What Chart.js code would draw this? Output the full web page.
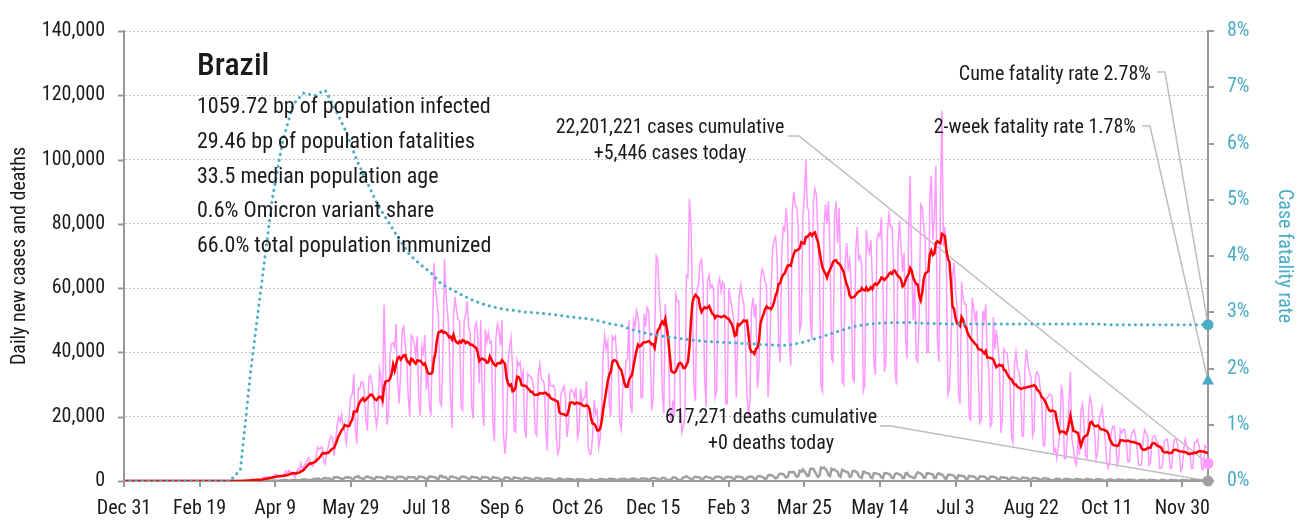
<!DOCTYPE html>
<html>
<head>
<meta charset="utf-8">
<script src="https://cdn.jsdelivr.net/npm/chart.js@4.4.1/dist/chart.umd.min.js"></script>
<style>
    html, body { margin: 0; padding: 0; background: #fff; }
</style>
</head>
<body>
<canvas id="cfrChart" width="1312" height="520"></canvas>
<script>
var FONT = "'Roboto Condensed', 'DejaVu Sans Condensed', sans-serif";
var TEAL = '#4bacc6';

// x axis: day number counted from Dec 31 2019, labelled every 50 days
var tickLabels = ['Dec 31', 'Feb 19', 'Apr 9', 'May 29', 'Jul 18', 'Sep 6', 'Oct 26', 'Dec 15',
    'Feb 3', 'Mar 25', 'May 14', 'Jul 3', 'Aug 22', 'Oct 11', 'Nov 30'];
var tickStep = 50;
var lastDay = 717;

// daily new cases, thousands, one row per week (Sun..Sat)
var dailyCasesK = [
    0, 0, 0, 0, 0,
    0, 0, 0, 0, 0, 0, 0, 0, 0, 0, 0, 0, 0, 0, 0, 0, 0, 0, 0, 0, 0, 0, 0, 0, 0, 0, 0, 0, 0,
    0, 0, 0, 0, 0, 0, 0, 0, 0, 0, 0, 0, 0, 0, 0, 0, 0, 0, 0, 0, 0, 0, 0, 0, 0, 0, 0, 0,
    0, 0, 0, 0, 0, 0, 0.01,
    0.01, 0, 0.01, 0.02, 0.03, 0.02, 0.03,
    0.08, 0.03, 0.06, 0.14, 0.19, 0.28, 0.22,
    0.42, 0.35, 0.31, 0.23, 0.48, 0.5, 0.49,
    0.35, 0.32, 1.14, 1.12, 1.07, 1.15, 1.22,
    0.85, 0.93, 1.66, 2.21, 1.93, 1.78, 1.09,
    1.44, 1.26, 1.83, 3.06, 2.1, 3.26, 2.92,
    1.93, 2.34, 1.09, 2.68, 3.74, 3.5, 5.51,
    3.38, 4.61, 5.39, 6.28, 7.22, 6.21, 4.97,
    4.59, 6.63, 6.94, 10.5, 9.89, 10.22, 10.61,
    6.2, 5.2, 8.5, 10.4, 12.8, 14, 13.6,
    7.9, 13.1, 17.4, 19.9, 18.5, 20.8, 16.5,
    15.8, 11.7, 16.3, 20.6, 26.4, 26.9, 33.3,
    16.4, 11.6, 28.9, 28.6, 30.9, 30.8, 27.1,
    18.9, 15.7, 32.1, 32.9, 30.4, 26, 21.7,
    17.1, 20.6, 34.9, 32.2, 22.8, 54.8, 34.7,
    17.5, 21.4, 39.4, 42.7, 43, 41.5, 48.9,
    30.5, 24.1, 33.8, 46.7, 48.1, 42.2, 37.9,
    26.1, 20.2, 45.3, 44.6, 42.6, 39, 45,
    24.8, 20.3, 41.9, 39.9, 45.4, 28.5, 34.2,
    23.5, 20.3, 44.9, 67.9, 59.9, 55.9, 51.1,
    24.6, 23.3, 40.8, 69.1, 57.8, 52.4, 45.4,
    25.8, 16.6, 51.6, 57.2, 53.1, 50.2, 49.9,
    23, 22, 50, 52, 56, 48, 46,
    23.1, 19.4, 47.8, 49.3, 45.3, 30.4, 50,
    24.4, 17.1, 47.1, 43.2, 46.2, 42.9, 43.4,
    18.2, 12.3, 44.4, 48.9, 46.8, 42.2, 50.2,
    14.3, 8.4, 14.3, 36.8, 41.6, 44.7, 35.5,
    15.8, 15.2, 37.7, 35.9, 36.9, 31.8, 34.1,
    16.4, 13.4, 33.5, 32.8, 32.4, 31.9, 28.4,
    15.2, 14.2, 33.1, 36.4, 31.7, 31.3, 30.3,
    15.2, 9.5, 33.6, 29.7, 29.4, 29.8, 28.7,
    13.3, 8.4, 10.2, 27, 28.2, 29.5, 26.1,
    13.7, 17.8, 27.8, 28.5, 27.5, 26.1, 29,
    13.5, 16, 28.6, 24.5, 25.7, 26.1, 31,
    10.8, 8.4, 8.5, 14.4, 25.2, 20.9, 22.1,
    10.6, 13.4, 23.9, 40.3, 45.3, 41, 43.4,
    24, 20, 45, 44, 45, 38, 35,
    18, 16, 31, 30, 37, 38, 50,
    24, 21, 50, 48, 53, 51, 46,
    26, 26, 52, 48, 54, 53, 43,
    22, 26, 44, 70, 69, 58, 52,
    28, 21, 55, 48, 47, 23, 18,
    25, 20, 58, 56, 56, 24, 15,
    // 2021
    17, 20, 64, 63.5, 87.8, 80, 56,
    29, 25, 60, 61, 68, 69, 62,
    33, 23, 62, 64, 60, 61, 59,
    26, 28, 61, 63, 59, 62, 61,
    24, 24, 60, 57, 54, 51, 46,
    26, 47, 58, 61, 57, 55, 44,
    27, 21, 24, 53, 57, 51, 55,
    29, 35, 62, 66, 65, 62, 61,
    26, 35, 59, 72, 75, 76, 69,
    43, 37, 70, 79, 78, 85, 77,
    44, 36, 84, 90, 86, 85, 79,
    47, 49, 82, 89, 100.2, 85, 84,
    50, 44, 87, 91, 89, 76, 64,
    30, 28, 79, 86, 80, 87, 70,
    38, 37, 82, 87, 74, 85, 66,
    31, 30, 68, 74, 66, 69, 61,
    32, 31, 72, 79, 69, 70, 67,
    28, 30, 78, 73, 71, 75, 63,
    37, 33, 75, 77, 76, 82, 61,
    34, 37, 78, 83, 79, 79, 68,
    34, 30, 73, 81, 73, 65, 71,
    44, 38, 78, 95, 67, 50, 63,
    38, 37, 52, 86, 85, 79, 75,
    40, 40, 88, 95, 75, 82, 98,
    44, 37, 87, 115.2, 73, 79, 66,
    27, 29, 43, 63, 68, 59, 54,
    27, 24, 62, 57, 55, 55, 43,
    20, 19, 57, 54, 50, 53, 35,
    18, 19, 53, 50, 55, 39, 35,
    17, 18, 51, 41, 47, 42, 37,
    15, 19, 41, 40, 40, 36, 32,
    14, 12, 36, 40, 35, 34, 30,
    14, 14, 36, 41, 36, 34, 32,
    14, 16, 33, 34, 33, 29, 24,
    11, 11, 26, 26, 27, 27, 26,
    9, 10, 7, 11, 15, 30, 26,
    7, 7, 14, 24, 34, 13, 10,
    6, 5, 13, 8, 22, 24, 18,
    8, 7, 22, 26, 24, 18, 15,
    7, 9, 19, 21, 23, 18, 13,
    6, 4, 6, 15, 17, 17, 12,
    5, 7, 16, 15, 16, 16, 12,
    6, 6, 14, 15, 16, 14, 11,
    5, 5, 5, 12, 16, 15, 14,
    5, 6, 13, 14, 14, 12, 12,
    4, 4, 5, 12, 13, 13, 10,
    4, 4, 11, 13, 13, 11, 9,
    3, 4, 10, 13, 11, 9, 9,
    4, 4, 12, 12, 13, 11, 9,
    3.5, 3.8, 11, 10.5, 11, 5.446
];

// daily new deaths, thousands, same layout
var dailyDeathsK = [
    0, 0, 0, 0, 0,
    0, 0, 0, 0, 0, 0, 0, 0, 0, 0, 0, 0, 0, 0, 0, 0, 0, 0, 0, 0, 0, 0, 0, 0, 0, 0, 0, 0, 0, 0, 0,
    0, 0, 0, 0, 0, 0, 0, 0, 0, 0, 0, 0, 0, 0, 0, 0, 0, 0, 0, 0, 0, 0, 0, 0, 0, 0, 0, 0, 0, 0, 0,
    0, 0, 0, 0, 0, 0, 0,
    0, 0, 0, 0, 0, 0.01, 0.01,
    0.01, 0.01, 0.01, 0.02, 0.02, 0.02, 0.02,
    0.02, 0.02, 0.04, 0.06, 0.07, 0.06, 0.07,
    0.05, 0.05, 0.13, 0.13, 0.14, 0.14, 0.07,
    0.1, 0.1, 0.2, 0.2, 0.4, 0.2, 0.2,
    0.12, 0.11, 0.3, 0.35, 0.35, 0.33, 0.2,
    0.2, 0.3, 0.45, 0.45, 0.43, 0.42, 0.3,
    0.3, 0.3, 0.6, 0.7, 0.6, 0.75, 0.7,
    0.5, 0.4, 0.85, 0.9, 0.8, 0.8, 0.8,
    0.5, 0.5, 1.2, 1.1, 1.2, 1.0, 0.9,
    0.65, 0.55, 1.1, 1.1, 1.15, 1.1, 0.95,
    0.5, 0.6, 1.26, 1.35, 1.47, 0.9, 0.9,
    0.55, 0.7, 1.3, 1.3, 1.24, 0.9, 0.9,
    0.6, 0.6, 1.3, 1.2, 1.2, 1.2, 1.0,
    0.65, 0.7, 1.4, 1.3, 1.2, 1.2, 1.1,
    0.55, 0.7, 1.3, 1.3, 1.25, 1.3, 1.1,
    0.6, 0.6, 1.3, 1.2, 1.2, 1.2, 1.2,
    0.6, 0.7, 1.3, 1.3, 1.3, 1.2, 0.9,
    0.7, 0.7, 1.4, 1.3, 1.3, 1.2, 1.2,
    0.55, 0.6, 1.6, 1.6, 1.1, 1.2, 1.1,
    0.55, 0.6, 1.4, 1.4, 1.2, 1.1, 1.0,
    0.6, 0.7, 1.3, 1.3, 1.3, 1.1, 0.9,
    0.55, 0.7, 1.35, 1.2, 1.2, 1.1, 0.95,
    0.5, 0.5, 1.3, 1.2, 1.2, 1.2, 0.9,
    0.45, 0.55, 1.2, 1.1, 1.0, 0.9, 0.8,
    0.45, 0.3, 0.5, 1.1, 1.1, 1.0, 0.8,
    0.4, 0.5, 1.1, 1.0, 0.9, 0.85, 0.8,
    0.4, 0.4, 1.1, 0.9, 0.9, 0.8, 0.7,
    0.35, 0.35, 0.9, 0.95, 0.8, 0.75, 0.7,
    0.3, 0.35, 0.8, 0.8, 0.75, 0.7, 0.65,
    0.3, 0.2, 0.3, 0.7, 0.75, 0.7, 0.55,
    0.25, 0.4, 0.7, 0.6, 0.6, 0.55, 0.5,
    0.25, 0.35, 0.6, 0.55, 0.5, 0.5, 0.45,
    0.2, 0.2, 0.2, 0.4, 0.6, 0.4, 0.35,
    0.2, 0.3, 0.5, 0.6, 0.6, 0.5, 0.55,
    0.3, 0.25, 0.7, 0.7, 0.6, 0.6, 0.45,
    0.3, 0.3, 0.6, 0.6, 0.65, 0.7, 0.6,
    0.3, 0.3, 0.7, 0.7, 0.75, 0.7, 0.6,
    0.3, 0.4, 0.8, 0.8, 0.75, 0.7, 0.65,
    0.3, 0.45, 0.9, 0.95, 0.9, 0.8, 0.75,
    0.3, 0.5, 0.95, 0.95, 0.8, 0.4, 0.3,
    0.35, 0.5, 1.1, 1.1, 1.05, 0.5, 0.4,
    // 2021
    0.3, 0.6, 1.2, 1.25, 1.5, 1.1, 1.0,
    0.5, 0.5, 1.1, 1.3, 1.2, 1.2, 1.05,
    0.5, 0.5, 1.2, 1.4, 1.2, 1.1, 1.0,
    0.6, 0.6, 1.2, 1.3, 1.3, 1.25, 1.1,
    0.55, 0.6, 1.2, 1.3, 1.25, 1.2, 1.1,
    0.55, 0.6, 1.35, 1.3, 1.3, 1.2, 1.1,
    0.5, 0.55, 0.7, 1.3, 1.4, 1.35, 1.2,
    0.55, 0.6, 1.4, 1.5, 1.5, 1.3, 1.05,
    0.65, 0.8, 1.7, 1.9, 1.8, 1.7, 1.3,
    0.8, 1.0, 1.95, 2.3, 2.2, 2.2, 1.6,
    1.1, 1.3, 2.8, 2.7, 2.7, 2.8, 2.0,
    1.3, 1.5, 3.2, 2.9, 3.6, 3.0, 2.4,
    1.5, 1.6, 3.8, 3.9, 3.7, 2.9, 2.0,
    1.3, 1.7, 4.2, 4.0, 4.2, 3.7, 3.0,
    1.8, 1.5, 3.8, 3.4, 3.6, 3.1, 2.9,
    1.6, 1.3, 3.5, 3.2, 3.0, 2.9, 2.6,
    1.3, 1.4, 3.1, 3.2, 2.9, 2.6, 1.6,
    1.2, 1.0, 2.9, 2.8, 2.5, 2.4, 2.2,
    1.1, 0.9, 2.4, 2.4, 2.3, 2.2, 1.9,
    1.1, 0.9, 2.4, 2.5, 2.3, 2.2, 1.8,
    0.9, 0.9, 2.2, 2.4, 2.3, 2.0, 1.8,
    0.9, 0.9, 2.4, 2.5, 1.6, 1.4, 1.3,
    0.9, 0.9, 2.0, 2.7, 2.5, 2.3, 2.0,
    1.0, 1.0, 2.4, 2.5, 2.3, 2.2, 2.0,
    0.9, 0.9, 2.2, 2.4, 2.0, 2.0, 1.6,
    0.8, 0.7, 1.9, 2.0, 1.9, 1.8, 1.6,
    0.8, 0.7, 1.8, 1.6, 1.6, 1.5, 1.4,
    0.6, 0.6, 1.6, 1.5, 1.5, 1.4, 1.2,
    0.5, 0.5, 1.4, 1.4, 1.4, 1.3, 1.1,
    0.5, 0.5, 1.3, 1.3, 1.3, 1.2, 1.0,
    0.4, 0.4, 1.2, 1.1, 1.1, 1.0, 0.9,
    0.4, 0.4, 1.1, 1.1, 1.0, 0.95, 0.8,
    0.4, 0.4, 1.0, 1.0, 0.95, 0.9, 0.8,
    0.35, 0.35, 0.9, 0.9, 0.85, 0.8, 0.7,
    0.3, 0.3, 0.8, 0.75, 0.75, 0.7, 0.6,
    0.25, 0.25, 0.3, 0.6, 0.7, 0.65, 0.55,
    0.25, 0.25, 0.6, 0.65, 0.6, 0.6, 0.5,
    0.25, 0.25, 0.55, 0.6, 0.6, 0.55, 0.45,
    0.2, 0.25, 0.6, 0.6, 0.55, 0.5, 0.45,
    0.2, 0.2, 0.55, 0.55, 0.5, 0.5, 0.4,
    0.15, 0.15, 0.2, 0.45, 0.45, 0.45, 0.35,
    0.15, 0.15, 0.45, 0.45, 0.4, 0.4, 0.3,
    0.15, 0.15, 0.4, 0.4, 0.35, 0.35, 0.3,
    0.1, 0.1, 0.1, 0.3, 0.35, 0.35, 0.3,
    0.1, 0.1, 0.35, 0.3, 0.3, 0.3, 0.25,
    0.1, 0.1, 0.1, 0.3, 0.3, 0.3, 0.2,
    0.08, 0.1, 0.3, 0.3, 0.25, 0.25, 0.2,
    0.08, 0.08, 0.25, 0.3, 0.25, 0.2, 0.2,
    0.07, 0.08, 0.3, 0.25, 0.2, 0.2, 0.15,
    0.06, 0.07, 0.2, 0.2, 0.15, 0
];

// cumulative case fatality rate (%), sampled every 7 days from day 0
var cfrStep = 7;
var cfrWeekly = [
    0, 0, 0, 0, 0, 0, 0, 0, 0, 0, 0,
    0.2, 2.0, 3.5, 5.0, 6.05, 6.7, 6.9, 6.85, 6.95, 6.6,
    6.2, 5.7, 5.3, 4.9, 4.6, 4.3, 4.02, 3.85, 3.7, 3.5,
    3.4, 3.3, 3.21, 3.14, 3.09, 3.05, 3.03, 3.0, 2.99, 2.97,
    2.95, 2.92, 2.9, 2.88, 2.84, 2.79, 2.76, 2.69, 2.64, 2.6,
    2.57, 2.55, 2.52, 2.5, 2.48, 2.47, 2.46, 2.45, 2.44, 2.43,
    2.42, 2.41, 2.42, 2.46, 2.51, 2.57, 2.63, 2.69, 2.75, 2.78,
    2.8, 2.81, 2.82, 2.82, 2.81, 2.8, 2.8, 2.79, 2.79, 2.79,
    2.79, 2.79, 2.79, 2.79, 2.79, 2.79, 2.79, 2.79, 2.79, 2.79,
    2.79, 2.79, 2.78, 2.78, 2.78, 2.78, 2.78, 2.78, 2.78, 2.78,
    2.78, 2.78
];

var casesToday = 5446;
var deathsToday = 0;
var casesTotal = 22201221;
var deathsTotal = 617271;
var cumeRate = 2.78;
var twoWeekRate = 1.78;

var country = 'Brazil';
var statLines = [
    '1059.72 bp of population infected',
    '29.46 bp of population fatalities',
    '33.5 median population age',
    '0.6% Omicron variant share',
    '66.0% total population immunized'
];

function fmt(n) {
    return n.toLocaleString('en-US');
}

var casePts = dailyCasesK.map(function(v, i) {
    return {x: i, y: v * 1000};
});
// trailing 7-day mean of the daily cases
var avgPts = dailyCasesK.map(function(v, i) {
    var lo = Math.max(0, i - 6);
    var sum = 0;
    for (var j = lo; j <= i; j++) {
        sum = sum + dailyCasesK[j];
    }
    return {x: i, y: sum / (i - lo + 1) * 1000};
});
var deathPts = dailyDeathsK.map(function(v, i) {
    return {x: i, y: v * 1000};
});
var cfrPts = cfrWeekly.map(function(v, i) {
    return {x: i * cfrStep, y: v};
});
cfrPts.push({x: lastDay, y: cumeRate});

function endMarker(value, axis, color, style, radius) {
    return {
        data: [{x: lastDay, y: value}],
        yAxisID: axis,
        showLine: false,
        pointRadius: radius,
        pointStyle: style,
        pointBackgroundColor: color,
        pointBorderWidth: 0,
        clip: false
    };
}

// leader lines under the series, texts over them, y tick marks by hand
var notesPlugin = {
    id: 'notes',
    beforeDatasetsDraw: function(chart) {
        var ctx = chart.ctx;
        var sx = chart.scales.x, sy = chart.scales.y, sr = chart.scales.y1;
        var xe = sx.getPixelForValue(lastDay);
        var leaders = [
            [788, 136, 799, sy.getPixelForValue(casesToday)],
            [880, 426, 891, sy.getPixelForValue(deathsToday)],
            [1157, 72, 1165, sr.getPixelForValue(cumeRate)],
            [1142, 126, 1150, sr.getPixelForValue(twoWeekRate)]
        ];
        ctx.save();
        ctx.strokeStyle = '#bdbdbd';
        ctx.lineWidth = 1.5;
        leaders.forEach(function(l) {
            ctx.beginPath();
            ctx.moveTo(l[0], l[1]);
            ctx.lineTo(l[2], l[1]);
            ctx.lineTo(xe, l[3]);
            ctx.stroke();
        });
        ctx.restore();
    },
    afterDraw: function(chart) {
        var ctx = chart.ctx;
        var sy = chart.scales.y;
        var left = chart.chartArea.left;
        ctx.save();
        ctx.strokeStyle = '#999';
        ctx.lineWidth = 2;
        sy.ticks.forEach(function(t) {
            var py = Math.round(sy.getPixelForValue(t.value)) + 0.5;
            ctx.beginPath();
            ctx.moveTo(left - 6, py);
            ctx.lineTo(left, py);
            ctx.stroke();
        });

        ctx.fillStyle = '#1a1a1a';
        ctx.textBaseline = 'alphabetic';
        ctx.textAlign = 'left';
        ctx.font = '500 32px ' + FONT;
        ctx.fillText(country, 197, 75);
        ctx.font = '22px ' + FONT;
        for (var i = 0; i < statLines.length; i++) {
            ctx.fillText(statLines[i], 197, 113 + i * 34.8);
        }

        ctx.font = '20px ' + FONT;
        ctx.textAlign = 'center';
        ctx.fillText(fmt(casesTotal) + ' cases cumulative', 670, 133);
        ctx.fillText('+' + fmt(casesToday) + ' cases today', 670, 159);
        ctx.fillText(fmt(deathsTotal) + ' deaths cumulative', 771, 423);
        ctx.fillText('+' + fmt(deathsToday) + ' deaths today', 771, 449);

        ctx.textAlign = 'right';
        ctx.fillText('Cume fatality rate ' + cumeRate.toFixed(2) + '%', 1151, 80);
        ctx.fillText('2-week fatality rate ' + twoWeekRate.toFixed(2) + '%', 1136, 133);
        ctx.restore();
    }
};

Chart.defaults.font.family = FONT;

var ctx = document.getElementById('cfrChart');
var cfrChart = new Chart(ctx, {
    type: 'line',
    data: {
        datasets: [
            endMarker(twoWeekRate, 'y1', TEAL, 'triangle', 7),
            endMarker(cumeRate, 'y1', TEAL, 'circle', 5.5),
            endMarker(casesToday, 'y', '#ff99ff', 'circle', 5.5),
            endMarker(deathsToday, 'y', '#a0a0a0', 'circle', 5.5),
            {
                data: cfrPts,
                yAxisID: 'y1',
                borderColor: TEAL,
                borderWidth: 3,
                borderDash: [0.1, 6],
                borderCapStyle: 'round',
                pointRadius: 0
            },
            {
                data: avgPts,
                yAxisID: 'y',
                borderColor: '#ff0000',
                borderWidth: 2.5,
                pointRadius: 0
            },
            {
                data: deathPts,
                yAxisID: 'y',
                borderColor: '#a0a0a0',
                borderWidth: 2.5,
                pointRadius: 0
            },
            {
                data: casePts,
                yAxisID: 'y',
                borderColor: '#ff99ff',
                borderWidth: 1.5,
                pointRadius: 0
            }
        ]
    },
    options: {
        responsive: false,
        animation: false,
        devicePixelRatio: 1,
        layout: {
            padding: {top: 18, left: 0, right: 0, bottom: 0}
        },
        plugins: {
            legend: {display: false},
            tooltip: {enabled: false}
        },
        scales: {
            x: {
                type: 'linear',
                min: 0,
                max: lastDay,
                afterFit: function(s) { s.height = 39; },
                grid: {drawOnChartArea: false, color: '#999', lineWidth: 2, tickLength: 6},
                border: {color: '#999', width: 2},
                ticks: {
                    stepSize: tickStep,
                    includeBounds: false,
                    autoSkip: false,
                    maxRotation: 0,
                    padding: 10,
                    color: '#1a1a1a',
                    font: {size: 20},
                    callback: function(v) { return tickLabels[Math.round(v / tickStep)]; }
                }
            },
            y: {
                min: 0,
                max: 140000,
                afterFit: function(s) { s.width = 124; },
                grid: {color: '#c4c4c4', lineWidth: 1, drawTicks: false},
                border: {color: '#999', width: 2, dash: [2, 2]},
                ticks: {
                    stepSize: 20000,
                    padding: 19,
                    color: '#1a1a1a',
                    font: {size: 20},
                    callback: function(v) { return fmt(v); }
                },
                title: {
                    display: true,
                    text: 'Daily new cases and deaths',
                    color: '#1a1a1a',
                    font: {size: 20},
                    padding: {top: 8, bottom: 0}
                }
            },
            y1: {
                position: 'right',
                min: 0,
                max: 8,
                afterFit: function(s) { s.width = 104; },
                grid: {drawOnChartArea: false, color: '#999', lineWidth: 2, tickLength: 6},
                border: {color: '#999', width: 2},
                ticks: {
                    stepSize: 1,
                    padding: 13,
                    color: TEAL,
                    font: {size: 20},
                    callback: function(v) { return v + '%'; }
                },
                title: {
                    display: true,
                    text: 'Case fatality rate',
                    color: TEAL,
                    font: {size: 20},
                    padding: {top: 16, bottom: 0}
                }
            }
        }
    },
    plugins: [notesPlugin]
});
</script>
</body>
</html>
